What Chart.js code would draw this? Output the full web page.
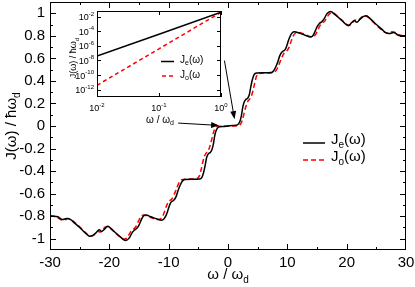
<!DOCTYPE html>
<html>
<head>
<meta charset="utf-8">
<script src="https://cdn.jsdelivr.net/npm/chart.js@4.4.1/dist/chart.umd.min.js"></script>
<style>
body { margin: 0; background: #fff; }
#wrap { position: relative; width: 415px; height: 287px; }
#main { position: absolute; left: 0; top: 0; }
#inset { position: absolute; left: 55px; top: 0; }
</style>
</head>
<body>
<div id="wrap">
<canvas id="main" width="415" height="287"></canvas>
<canvas id="inset" width="175" height="128"></canvas>
</div>
<script>
// main plot: J_e (black) and J_o (red dashed) vs omega / omega_d
var omegaE = [-30,-29.3,-28.7,-27.9,-27.2,-26.5,-26,-25,-24,-23.3,-22.8,-22.3,-21.7,-21.3,-20.9,-20.3,-19.8,-19,-18,-17.3,-17.0,-16.6,-16.2,-15.8,-15.4,-15.0,-14.6,-14.2,-13.8,-13,-12,-11.2,-10.8,-10.5,-10.2,-9.9,-9.6,-9.3,-9.0,-8.7,-8.4,-8.1,-7.7,-7.3,-6.0,-4.8,-4.4,-4.1,-3.85,-3.6,-3.3,-3.0,-2.75,-2.5,-2.25,-2.0,-1.6,-0.8,
  0,0.8,1.6,2.0,2.25,2.5,2.75,3.0,3.3,3.6,3.85,4.1,4.4,4.8,6.0,7.3,7.7,8.1,8.4,8.7,9.0,9.3,9.6,9.9,10.2,10.5,10.8,11.2,12,13,13.8,14.2,14.6,15.0,15.4,15.8,16.2,16.6,17.0,17.3,18,19,19.8,20.3,20.9,21.3,21.7,22.3,22.8,23.3,24,25,26,26.5,27.2,27.9,28.7,29.3,30];
var jE = [-0.80,-0.80,-0.805,-0.83,-0.82,-0.83,-0.855,-0.90,-0.95,-0.977,-0.97,-0.95,-0.92,-0.935,-0.92,-0.89,-0.905,-0.945,-0.99,-1.015,-1.01,-0.99,-0.95,-0.925,-0.91,-0.88,-0.83,-0.795,-0.79,-0.805,-0.825,-0.835,-0.825,-0.80,-0.76,-0.71,-0.675,-0.665,-0.65,-0.62,-0.57,-0.53,-0.49,-0.475,-0.472,-0.47,-0.455,-0.41,-0.35,-0.28,-0.245,-0.235,-0.215,-0.17,-0.09,-0.04,-0.01,-0.005,
  0,0.005,0.01,0.04,0.09,0.17,0.215,0.235,0.245,0.28,0.35,0.41,0.455,0.47,0.472,0.475,0.49,0.53,0.57,0.62,0.65,0.665,0.675,0.71,0.76,0.80,0.825,0.835,0.825,0.805,0.79,0.795,0.83,0.88,0.91,0.925,0.95,0.99,1.01,1.015,0.99,0.945,0.905,0.89,0.92,0.935,0.92,0.95,0.97,0.977,0.95,0.90,0.855,0.83,0.82,0.83,0.805,0.80,0.80];

var omegaO = [-30,-29.4,-28.8,-28.2,-27.6,-27.0,-26.5,-25.5,-24.5,-23.6,-22.9,-22.4,-21.9,-21.5,-21.1,-20.7,-20.3,-19.5,-18.5,-17.6,-17.1,-16.7,-16.3,-15.9,-15.5,-15.0,-14.6,-14.2,-13.5,-12.6,-11.8,-11.4,-11.0,-10.7,-10.3,-9.9,-9.5,-9.1,-8.7,-8.4,-8.0,-7.6,-6.0,-5.2,-4.8,-4.5,-4.2,-3.9,-3.6,-3.3,-3.0,-2.7,-2.4,-2.1,-1.6,
  0,1.6,2.1,2.4,2.7,3.0,3.3,3.6,3.9,4.2,4.5,4.8,5.2,6.0,7.6,8.0,8.4,8.7,9.1,9.5,9.9,10.3,10.7,11.0,11.4,11.8,12.6,13.5,14.2,14.6,15.0,15.5,15.9,16.3,16.7,17.1,17.6,18.5,19.5,20.3,20.7,21.1,21.5,21.9,22.4,22.9,23.6,24.5,25.5,26.5,27.0,27.6,28.2,28.8,29.4,30];
var jO = [-0.795,-0.80,-0.81,-0.83,-0.835,-0.82,-0.83,-0.87,-0.92,-0.965,-0.975,-0.96,-0.935,-0.94,-0.925,-0.895,-0.895,-0.925,-0.97,-1.005,-0.995,-0.965,-0.93,-0.915,-0.89,-0.835,-0.80,-0.79,-0.80,-0.82,-0.83,-0.825,-0.80,-0.76,-0.7,-0.665,-0.65,-0.61,-0.56,-0.52,-0.485,-0.474,-0.47,-0.465,-0.44,-0.38,-0.31,-0.26,-0.235,-0.215,-0.17,-0.11,-0.05,-0.015,-0.003,
  0,0.003,0.015,0.05,0.11,0.17,0.215,0.235,0.26,0.31,0.38,0.44,0.465,0.47,0.474,0.485,0.52,0.56,0.61,0.65,0.665,0.7,0.76,0.80,0.825,0.83,0.82,0.80,0.79,0.80,0.835,0.89,0.915,0.93,0.965,0.995,1.005,0.97,0.925,0.895,0.895,0.925,0.94,0.935,0.96,0.975,0.965,0.92,0.87,0.83,0.82,0.835,0.83,0.81,0.80,0.795];

var xTicks = [-30, -20, -10, 0, 10, 20, 30];
var yTicks = [-1, -0.8, -0.6, -0.4, -0.2, 0, 0.2, 0.4, 0.6, 0.8, 1];

// inset: low frequency behaviour, log-log
var insetOmega = [0.01, 0.1, 1];
var insetJe = [4e-8, 4e-5, 4e-2];
var insetJo = [4e-12, 4e-7, 4e-2];
var insetXTicks = [-2, -1, 0];            // exponents of 10
var insetYTicks = [-2, -4, -6, -8, -10, -12];

var FONT = "'Liberation Sans', Arial, sans-serif";

function pts(xs, ys) {
  return xs.map(function(x, i) { return { x: x, y: ys[i] }; });
}

// text with sub / superscript pieces: [text, 0 normal | 1 sub | 2 sup]
function rich(ctx, parts, x, y, size, align) {
  var small = Math.round(size * 0.68);
  var w = 0;
  parts.forEach(function(p) {
    ctx.font = (p[1] ? small : size) + 'px ' + FONT;
    p.w = ctx.measureText(p[0]).width;
    w += p.w;
  });
  var cx = align === 'center' ? x - w / 2 : (align === 'right' ? x - w : x);
  ctx.textAlign = 'left';
  ctx.textBaseline = 'middle';
  parts.forEach(function(p) {
    ctx.font = (p[1] ? small : size) + 'px ' + FONT;
    var dy = p[1] === 1 ? size * 0.32 : (p[1] === 2 ? -size * 0.42 : 0);
    ctx.fillText(p[0], cx, y + dy);
    cx += p.w;
  });
}

function arrow(ctx, x1, y1, x2, y2) {
  var ang = Math.atan2(y2 - y1, x2 - x1), L = 8, W = 3;
  ctx.beginPath();
  ctx.moveTo(x1, y1);
  ctx.lineTo(x2 - Math.cos(ang) * L * 0.8, y2 - Math.sin(ang) * L * 0.8);
  ctx.stroke();
  ctx.beginPath();
  ctx.moveTo(x2, y2);
  ctx.lineTo(x2 - Math.cos(ang) * L - Math.sin(ang) * W, y2 - Math.sin(ang) * L + Math.cos(ang) * W);
  ctx.lineTo(x2 - Math.cos(ang) * L + Math.sin(ang) * W, y2 - Math.sin(ang) * L - Math.cos(ang) * W);
  ctx.closePath();
  ctx.fill();
}

var mainDeco = {
  id: 'mainDeco',
  afterDraw: function(chart) {
    var ctx = chart.ctx, a = chart.chartArea;
    var sx = chart.scales.x, sy = chart.scales.y;
    ctx.save();
    ctx.strokeStyle = '#000';
    ctx.fillStyle = '#000';
    ctx.lineWidth = 1;
    ctx.strokeRect(a.left + 0.5, a.top + 0.5, a.right - a.left - 1, a.bottom - a.top - 1);

    // inward ticks on all four sides
    ctx.beginPath();
    for (var v = -25; v <= 25; v += 5) {
      var x = Math.round(sx.getPixelForValue(v)) + 0.5;
      var len = v % 10 === 0 ? 6 : 3;
      ctx.moveTo(x, a.bottom); ctx.lineTo(x, a.bottom - len);
      ctx.moveTo(x, a.top); ctx.lineTo(x, a.top + len);
    }
    for (var k = -10; k <= 10; k++) {
      var y = Math.round(sy.getPixelForValue(k / 10)) + 0.5;
      var l2 = k % 2 === 0 ? 6 : 3;
      ctx.moveTo(a.left, y); ctx.lineTo(a.left + l2, y);
      ctx.moveTo(a.right, y); ctx.lineTo(a.right - l2, y);
    }
    ctx.stroke();

    // axis titles
    rich(ctx, [['ω / ω', 0], ['d', 1]], (a.left + a.right) / 2, 275, 15, 'center');
    ctx.save();
    ctx.translate(12, (a.top + a.bottom) / 2);
    ctx.rotate(-Math.PI / 2);
    rich(ctx, [['J(ω) / ħω', 0], ['d', 1]], 0, 0, 15, 'center');
    ctx.restore();

    // legend
    ctx.lineWidth = 1.5;
    ctx.beginPath(); ctx.moveTo(303, 143); ctx.lineTo(325, 143); ctx.stroke();
    ctx.strokeStyle = '#ff0000';
    ctx.setLineDash([5, 3]);
    ctx.beginPath(); ctx.moveTo(303, 160); ctx.lineTo(325, 160); ctx.stroke();
    ctx.setLineDash([]);
    rich(ctx, [['J', 0], ['e', 1], ['(ω)', 0]], 331, 140, 15, 'left');
    rich(ctx, [['J', 0], ['o', 1], ['(ω)', 0]], 331, 157, 15, 'left');

    // arrows from the inset to the origin
    ctx.strokeStyle = '#000';
    ctx.lineWidth = 1;
    arrow(ctx, sx.getPixelForValue(-0.6), sy.getPixelForValue(0.58), sx.getPixelForValue(1.1), sy.getPixelForValue(0.06));
    arrow(ctx, sx.getPixelForValue(-8.4), sy.getPixelForValue(0.026), sx.getPixelForValue(-1.5), sy.getPixelForValue(0.005));
    ctx.restore();
  }
};

new Chart(document.getElementById('main'), {
  type: 'line',
  data: {
    datasets: [
      { label: 'Je', data: pts(omegaE, jE), borderColor: '#000', borderWidth: 1.5, pointRadius: 0, fill: false, cubicInterpolationMode: 'monotone' },
      { label: 'Jo', data: pts(omegaO, jO), borderColor: '#ff0000', borderWidth: 1.5, borderDash: [5, 3], pointRadius: 0, fill: false, cubicInterpolationMode: 'monotone' }
    ]
  },
  options: {
    responsive: false,
    animation: false,
    layout: { padding: { top: 2, right: 9, left: 0, bottom: 0 } },
    plugins: { legend: { display: false }, tooltip: { enabled: false } },
    scales: {
      x: {
        type: 'linear', min: -30, max: 30,
        afterBuildTicks: function(s) { s.ticks = xTicks.map(function(v) { return { value: v }; }); },
        afterFit: function(s) { s.height = 37; s.paddingLeft = 0; s.paddingRight = 0; },
        grid: { display: false, drawTicks: false },
        border: { display: false },
        ticks: { color: '#000', padding: 4, maxRotation: 0, font: { family: FONT, size: 15 },
          callback: function(v) { return String(v); } }
      },
      y: {
        type: 'linear', min: -1.1, max: 1.1,
        afterBuildTicks: function(s) { s.ticks = yTicks.map(function(v) { return { value: v }; }); },
        afterFit: function(s) { s.width = 50; s.paddingTop = 0; s.paddingBottom = 0; },
        grid: { display: false, drawTicks: false },
        border: { display: false },
        ticks: { color: '#000', padding: 5, font: { family: FONT, size: 15 },
          callback: function(v) { return Math.abs(v) < 1e-9 ? '0' : String(Math.round(v * 10) / 10); } }
      }
    }
  },
  plugins: [mainDeco]
});

var insetDeco = {
  id: 'insetDeco',
  beforeDatasetsDraw: function(chart) {
    var ctx = chart.ctx, a = chart.chartArea;
    ctx.save();
    ctx.fillStyle = '#fff';
    ctx.fillRect(a.left, a.top, a.right - a.left, a.bottom - a.top);
    ctx.restore();
  },
  afterDraw: function(chart) {
    var ctx = chart.ctx, a = chart.chartArea;
    var sx = chart.scales.x, sy = chart.scales.y;
    ctx.save();
    ctx.strokeStyle = '#000';
    ctx.fillStyle = '#000';
    ctx.lineWidth = 1;
    ctx.strokeRect(a.left + 0.5, a.top + 0.5, a.right - a.left - 1, a.bottom - a.top - 1);
    ctx.beginPath();
    insetXTicks.forEach(function(e) {
      var x = Math.round(sx.getPixelForValue(Math.pow(10, e))) + 0.5;
      ctx.moveTo(x, a.bottom); ctx.lineTo(x, a.bottom - 4);
      ctx.moveTo(x, a.top); ctx.lineTo(x, a.top + 4);
    });
    insetYTicks.forEach(function(e) {
      var y = Math.round(sy.getPixelForValue(Math.pow(10, e))) + 0.5;
      ctx.moveTo(a.left, y); ctx.lineTo(a.left + 4, y);
      ctx.moveTo(a.right, y); ctx.lineTo(a.right - 4, y);
    });
    ctx.stroke();

    insetXTicks.forEach(function(e) {
      var x = sx.getPixelForValue(Math.pow(10, e));
      rich(ctx, [['10', 0], [String(e), 2]], x, a.bottom + 12, 9, 'center');
    });
    insetYTicks.forEach(function(e) {
      var y = sy.getPixelForValue(Math.pow(10, e));
      rich(ctx, [['10', 0], [String(e), 2]], a.left - 3, y + 1, 9, 'right');
    });

    rich(ctx, [['ω / ω', 0], ['d', 1]], 105, 120, 10, 'center');
    ctx.save();
    ctx.translate(19, 58);
    ctx.rotate(-Math.PI / 2);
    rich(ctx, [['J(ω) / ħω', 0], ['d', 1]], 0, 0, 9, 'center');
    ctx.restore();

    // inset legend
    ctx.lineWidth = 1.5;
    ctx.beginPath(); ctx.moveTo(106, 61.5); ctx.lineTo(119, 61.5); ctx.stroke();
    ctx.strokeStyle = '#ff0000';
    ctx.setLineDash([4, 3]);
    ctx.beginPath(); ctx.moveTo(107, 76); ctx.lineTo(121, 76); ctx.stroke();
    ctx.setLineDash([]);
    rich(ctx, [['J', 0], ['e', 1], ['(ω)', 0]], 125, 60, 10, 'left');
    rich(ctx, [['J', 0], ['o', 1], ['(ω', 0]], 125, 75, 10, 'left');
    ctx.restore();
  }
};

new Chart(document.getElementById('inset'), {
  type: 'line',
  data: {
    datasets: [
      { label: 'Je', data: pts(insetOmega, insetJe), borderColor: '#000', borderWidth: 1.5, pointRadius: 0, fill: false },
      { label: 'Jo', data: pts(insetOmega, insetJo), borderColor: '#ff0000', borderWidth: 1.5, borderDash: [4, 3], pointRadius: 0, fill: false }
    ]
  },
  options: {
    responsive: false,
    animation: false,
    layout: { padding: { top: 11, right: 9, left: 0, bottom: 0 } },
    plugins: { legend: { display: false }, tooltip: { enabled: false } },
    scales: {
      x: { type: 'logarithmic', min: 0.01, max: 1, afterFit: function(s) { s.height = 31; },
        ticks: { display: false }, grid: { display: false, drawTicks: false }, border: { display: false } },
      y: { type: 'logarithmic', min: 1e-13, max: 0.06, afterFit: function(s) { s.width = 42; },
        ticks: { display: false }, grid: { display: false, drawTicks: false }, border: { display: false } }
    }
  },
  plugins: [insetDeco]
});
</script>
</body>
</html>
